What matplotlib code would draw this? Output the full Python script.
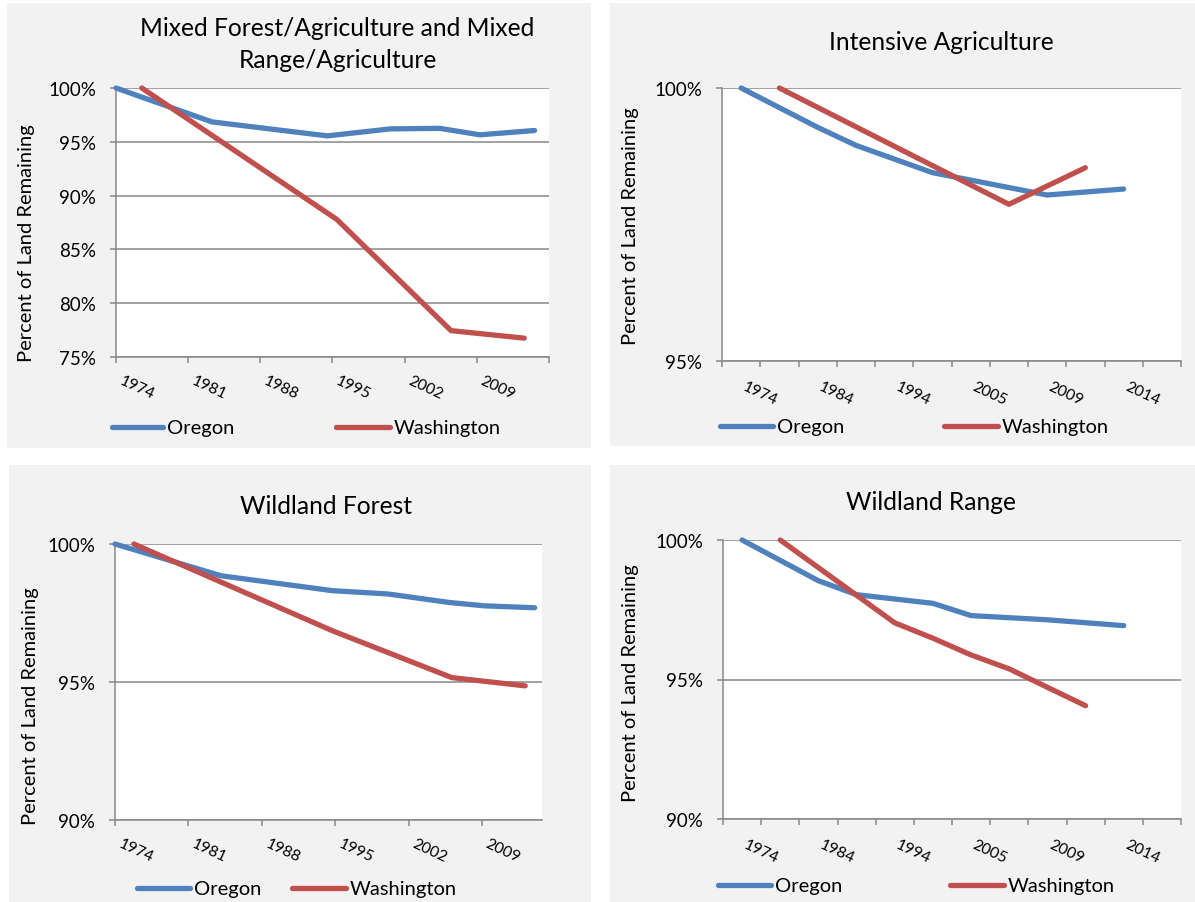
import numpy as np
import matplotlib
matplotlib.use("Agg")
import matplotlib.pyplot as plt
from matplotlib.patches import Rectangle
from matplotlib.lines import Line2D

plt.rcParams['font.family'] = ['Lato', 'DejaVu Sans']

# ---------------- data ----------------
# Panel 1: Mixed Forest/Agriculture and Mixed Range/Agriculture (year axis)
mix_or_years = [1974, 1983.3, 1994.5, 2000.6, 2005.4, 2009.3, 2014.6]
mix_or_vals = [100, 96.85, 95.55, 96.2, 96.25, 95.65, 96.05]
mix_wa_years = [1976.5, 1995.4, 2006.5, 2013.6]
mix_wa_vals = [100, 87.8, 77.45, 76.75]
mix_ticks = [1974, 1981, 1988, 1995, 2002, 2009]

# Panel 2: Intensive Agriculture (category axis, 12 categories)
cat_labels = ["1974", "", "1984", "", "1994", "", "2005", "", "2009", "", "2014", ""]
int_or_idx = [0, 2, 3, 5, 8, 10]
int_or_vals = [100, 99.28, 98.95, 98.45, 98.04, 98.15]
int_wa_idx = [1, 7, 9]
int_wa_vals = [100, 97.87, 98.54]

# Panel 3: Wildland Forest (year axis)
for_or_years = [1974, 1984.1, 1994.7, 2000.0, 2005.9, 2009.2, 2014.0]
for_or_vals = [100, 98.85, 98.31, 98.19, 97.88, 97.76, 97.69]
for_wa_years = [1975.8, 1994.7, 2006.1, 2013.1]
for_wa_vals = [100, 96.86, 95.16, 94.86]
for_ticks = [1974, 1981, 1988, 1995, 2002, 2009]

# Panel 4: Wildland Range (category axis, 12 categories)
rng_or_idx = [0, 2, 3, 5, 6, 8, 10]
rng_or_vals = [100, 98.54, 98.04, 97.73, 97.29, 97.14, 96.93]
rng_wa_idx = [1, 4, 5, 6, 7, 9]
rng_wa_vals = [100, 97.03, 96.48, 95.88, 95.38, 94.06]

series_names = ["Oregon", "Washington"]
titles = ["Mixed Forest/Agriculture and Mixed\nRange/Agriculture",
          "Intensive Agriculture", "Wildland Forest", "Wildland Range"]
ylabel = "Percent of Land Remaining"

# ---------------- style ----------------
C_OR = '#4F81BD'
C_WA = '#C0504D'
GRID = '#878787'
PANEL = '#F2F2F2'
W, H = 1195, 903
LW = 3.8

fig = plt.figure(figsize=(W / 100, H / 100), dpi=100)
fig.patch.set_facecolor('white')


def fx(x):
    return x / W


def fy(y):
    return 1 - y / H


def panel_rect(x0, y0, x1, y1):
    fig.patches.append(Rectangle((fx(x0), fy(y1)), fx(x1) - fx(x0), fy(y0) - fy(y1),
                                 transform=fig.transFigure, facecolor=PANEL,
                                 edgecolor='none', zorder=-5))


def make_ax(x0, y0, x1, y1):
    ax = fig.add_axes([fx(x0), fy(y1), fx(x1) - fx(x0), fy(y0) - fy(y1)])
    ax.set_zorder(2)
    ax.set_facecolor('white')
    for s in ['top', 'right']:
        ax.spines[s].set_visible(False)
    for s in ['left', 'bottom']:
        ax.spines[s].set_color(GRID)
        ax.spines[s].set_linewidth(1.1)
    ax.yaxis.grid(True, color=GRID, linewidth=1.1)
    ax.set_axisbelow(True)
    ax.tick_params(axis='both', which='major', direction='out', length=4.5,
                   width=1.1, color=GRID)
    ax.tick_params(axis='y', labelsize=13.5, pad=10, labelcolor='black')
    return ax


def yfmt(ax, ticks):
    ax.set_yticks(ticks)
    ax.set_yticklabels([f"{int(t)}%" for t in ticks])


def xlabels(ax, positions, labels, dx=5, dy=-11):
    ax.set_xticklabels([])
    for p, lab in zip(positions, labels):
        if not lab:
            continue
        ax.annotate(lab, xy=(p, 0), xycoords=('data', 'axes fraction'),
                    xytext=(dx, dy), textcoords='offset pixels',
                    rotation=-25, ha='left', va='top', rotation_mode='anchor',
                    fontsize=11.3, annotation_clip=False)


def plot_series(ax, x, y, color):
    ax.plot(x, y, color=color, lw=LW, solid_capstyle='round',
            solid_joinstyle='round', clip_on=False, zorder=3)


def legend(y, x_or, x_wa):
    for (x0, x1), name, c in zip([x_or, x_wa], series_names, [C_OR, C_WA]):
        fig.add_artist(Line2D([fx(x0), fx(x1)], [fy(y), fy(y)], transform=fig.transFigure,
                              color=c, lw=LW, solid_capstyle='round'))
        fig.text(fx(x1 + 4), fy(y + 1), name, fontsize=14.5, ha='left', va='center')


# panels
panel_rect(7, 4, 591, 449)
panel_rect(610, 4, 1195, 447)
panel_rect(9, 466, 591, 903)
panel_rect(610, 466, 1195, 903)

TS = 17.7
YS = 14.5

# ---- Panel 1 ----
ax1 = make_ax(116, 89, 549, 358)
plot_series(ax1, mix_or_years, mix_or_vals, C_OR)
plot_series(ax1, mix_wa_years, mix_wa_vals, C_WA)
ax1.set_ylim(75, 100)
yfmt(ax1, [75, 80, 85, 90, 95, 100])
ax1.set_xlim(1974, 2016)
ax1.set_xticks(mix_ticks + [2016])
xlabels(ax1, mix_ticks, [str(t) for t in mix_ticks], dx=7, dy=-16)
fig.text(fx(337), fy(28), titles[0].split("\n")[0], fontsize=TS, ha='center', va='center')
fig.text(fx(338), fy(61), titles[0].split("\n")[1], fontsize=TS, ha='center', va='center')
fig.text(fx(27), fy(243), ylabel, rotation=90, fontsize=YS, ha='center', va='center')
legend(428, (112, 163), (336, 390))

# ---- Panel 2 ----
ax2 = make_ax(722, 89, 1181, 362)
plot_series(ax2, int_or_idx, int_or_vals, C_OR)
plot_series(ax2, int_wa_idx, int_wa_vals, C_WA)
ax2.set_ylim(95, 100)
yfmt(ax2, [95, 100])
ax2.set_xlim(-0.5, len(cat_labels) - 0.5)
ax2.set_xticks(np.arange(-0.5, len(cat_labels), 1.0))
xlabels(ax2, range(len(cat_labels)), cat_labels, dx=5, dy=-18)
fig.text(fx(941), fy(43), titles[1], fontsize=TS, ha='center', va='center')
fig.text(fx(631), fy(226), ylabel, rotation=90, fontsize=YS, ha='center', va='center')
legend(427, (720, 773), (944, 998))

# ---- Panel 3 ----
ax3 = make_ax(115, 545, 542, 821)
plot_series(ax3, for_or_years, for_or_vals, C_OR)
plot_series(ax3, for_wa_years, for_wa_vals, C_WA)
ax3.set_ylim(90, 100)
yfmt(ax3, [90, 95, 100])
ax3.set_xlim(1974, 2014.7)
ax3.set_xticks(for_ticks)
xlabels(ax3, for_ticks, [str(t) for t in for_ticks], dx=7, dy=-16)
fig.text(fx(326), fy(507), titles[2], fontsize=TS, ha='center', va='center')
fig.text(fx(31), fy(706), ylabel, rotation=90, fontsize=YS, ha='center', va='center')
legend(889, (137, 190), (292, 346))

# ---- Panel 4 ----
ax4 = make_ax(723, 541, 1181, 820)
plot_series(ax4, rng_or_idx, rng_or_vals, C_OR)
plot_series(ax4, rng_wa_idx, rng_wa_vals, C_WA)
ax4.set_ylim(90, 100)
yfmt(ax4, [90, 95, 100])
ax4.set_xlim(-0.5, len(cat_labels) - 0.5)
ax4.set_xticks(np.arange(-0.5, len(cat_labels), 1.0))
xlabels(ax4, range(len(cat_labels)), cat_labels, dx=5, dy=-18)
fig.text(fx(931), fy(503), titles[3], fontsize=TS, ha='center', va='center')
fig.text(fx(631), fy(683), ylabel, rotation=90, fontsize=YS, ha='center', va='center')
legend(886, (718, 771), (950, 1004))

fig.savefig("out.png", dpi=100, facecolor='white')
